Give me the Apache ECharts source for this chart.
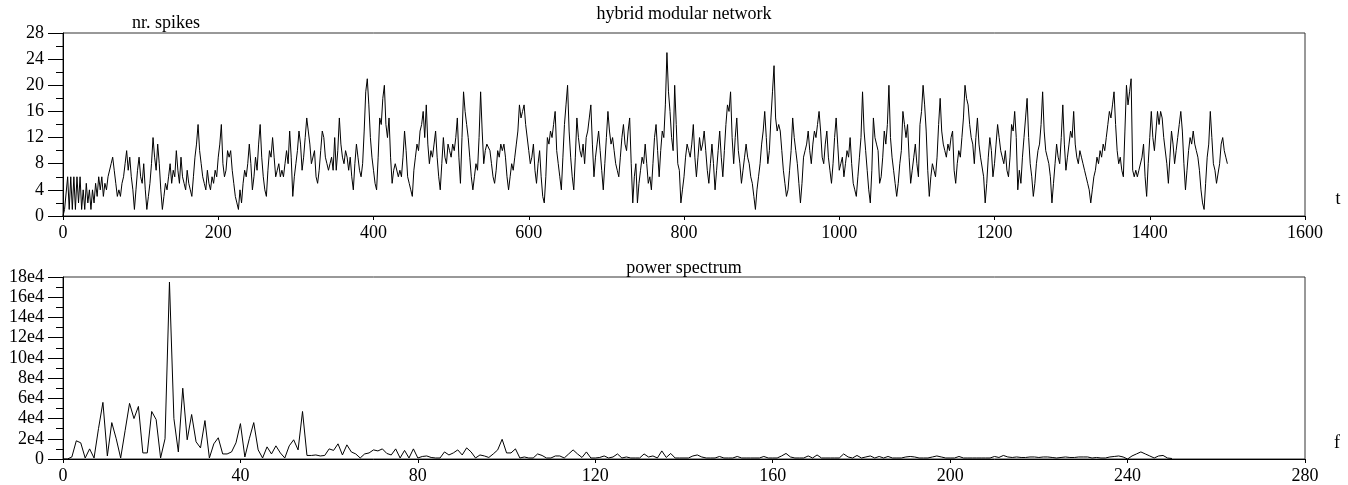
<!DOCTYPE html>
<html><head><meta charset="utf-8">
<script src="https://cdn.jsdelivr.net/npm/echarts@6/dist/echarts.min.js"></script>
<style>html,body{margin:0;padding:0;background:#fff}#c{width:1348px;height:485px}</style>
</head><body><div id="c"></div>
<script>
// ---- data ----
const spikesStep = 2; // t spacing of the values below (t = 0,2,4,...,1500)
const spikes = [
0,1,1,6,1,6,1,6,1,6,2,6,1,4,1,5,2,4,1,4,
2,5,3,6,4,6,3,5,4,6,
6,8,9,7,5,3,4,3,5,6,
8,10,7,9,6,4,1,4,7,9,
6,5,8,4,1,3,5,8,12,9,
7,11,8,4,1,3,5,4,6,8,
5,7,6,10,7,5,9,6,5,4,
7,5,4,3,6,9,11,14,10,8,
6,5,4,7,5,4,6,5,7,6,
9,11,14,8,6,7,10,9,10,7,
5,3,2,1,4,2,5,7,6,8,
11,8,4,6,9,7,11,14,9,6,
4,3,7,10,9,12,9,6,7,8,
6,7,6,8,10,8,13,9,3,6,
8,10,13,11,7,9,12,15,13,11,
8,8,10,6,5,7,10,13,12,9,
8,7,8,9,7,12,7,10,15,11,
9,8,10,9,7,9,6,4,8,11,
9,7,6,8,13,19,21,17,12,9,
7,5,4,9,15,14,18,20,14,12,
15,9,5,7,8,8,6,7,6,9,
13,10,6,5,4,3,7,9,11,10,
13,14,16,12,17,11,8,10,9,11,
13,9,6,4,8,12,9,8,11,10,
9,11,10,12,15,9,5,12,19,16,
14,12,9,6,4,6,8,7,12,19,
13,8,10,11,11,10,8,6,5,7,
10,9,11,10,11,9,6,4,6,8,
7,9,11,13,17,15,16,17,14,14,
10,8,9,11,7,5,8,10,6,3,
2,6,12,11,13,12,14,16,10,8,
6,4,9,14,17,20,13,9,6,4,
9,15,12,10,9,11,8,12,13,15,
17,11,6,9,11,13,10,7,4,8,
12,16,13,11,12,10,8,7,6,9,
12,14,11,10,13,15,8,2,6,8,
2,5,7,9,8,11,8,5,6,4,
8,12,14,10,6,10,13,12,17,25,
19,16,12,10,20,14,8,7,2,4,
6,9,11,10,9,11,14,9,6,9,
12,10,11,13,10,7,5,8,11,8,
4,7,10,13,9,6,10,14,17,16,
19,12,8,12,15,10,8,5,7,9,
11,9,8,6,5,3,1,4,6,8,
11,13,16,12,8,10,15,19,23,15,
13,14,13,10,7,5,3,4,7,10,
15,12,10,8,5,2,5,9,10,11,
13,10,8,11,13,12,14,16,13,9,
8,11,13,9,7,5,8,12,15,11,
7,8,9,6,8,10,9,12,8,5,
4,3,6,9,12,19,13,10,7,4,
2,7,15,12,11,10,5,6,9,13,
11,14,20,12,9,7,5,3,5,8,
10,16,14,12,14,9,5,7,9,11,
8,6,14,16,20,17,13,7,3,6,
8,7,6,9,14,18,13,11,10,9,
11,10,12,13,7,5,8,10,9,12,
15,20,18,17,14,12,11,8,12,15,
11,9,9,6,2,5,9,12,10,6,
8,11,14,12,10,9,8,10,7,6,
9,14,13,16,12,4,7,5,9,12,
15,18,12,8,6,3,5,8,10,11,
14,19,13,10,9,8,6,2,5,8,
11,9,8,12,17,11,7,9,11,13,
12,16,11,9,8,10,9,8,7,6,
5,4,2,4,6,7,9,8,10,9,
11,10,12,14,16,15,17,19,14,10,
8,9,7,6,13,20,17,19,21,7,
6,7,6,7,7,9,11,6,3,8,
12,16,12,10,13,16,14,16,15,12,
12,8,5,9,13,11,8,10,12,14,
16,13,8,4,7,10,12,11,13,11,
10,9,7,4,2,1,5,9,11,16,
12,8,7,5,5,8,11,12,10,9,8
];
// power spectrum, f = 0..250, values in units of 1e4
const power = [
0,0,0.2,1.8,1.6,0.1,1.0,0.1,3.0,5.6,
0.3,3.6,2.0,0.1,2.8,5.5,4.0,5.2,0.6,0.6,
4.7,3.9,0.1,2.0,17.5,4.0,0.7,7.0,1.9,4.4,
1.7,1.1,3.8,0.1,1.5,2.1,0.5,0.5,0.7,1.6,
3.5,0.2,2.0,3.6,0.9,0.1,1.2,0.5,1.3,0.6,
0.1,1.3,1.9,0.9,4.7,0.35,0.35,0.4,0.3,0.35,
1.0,0.85,1.5,0.4,1.4,0.7,0.5,0.1,0.5,0.6,
0.9,0.8,1.0,0.55,0.4,1.0,0.1,0.85,0.1,1.0,
0.1,0.25,0.3,0.15,0.1,0.1,0.7,0.4,0.6,0.9,
0.4,1.1,0.7,0.1,0.4,0.3,0.15,0.5,0.9,1.95,
0.6,0.6,1.0,0.1,0.2,0.1,0.1,0.5,0.35,0.1,
0.1,0.3,0.3,0.1,0.5,0.9,0.5,0.15,0.7,0.1,
0.1,0.15,0.3,0.1,0.2,0.5,0.1,0.2,0.1,0.1,
0.1,0.5,0.2,0.3,0.1,0.8,0.15,0.55,0.1,0.1,
0.1,0.1,0.3,0.4,0.2,0.1,0.1,0.1,0.25,0.1,
0.1,0.1,0.25,0.1,0.1,0.1,0.1,0.1,0.25,0.1,
0.1,0.1,0.3,0.55,0.2,0.1,0.1,0.1,0.3,0.1,
0.4,0.1,0.1,0.1,0.1,0.1,0.5,0.2,0.1,0.35,
0.1,0.2,0.3,0.1,0.25,0.1,0.25,0.1,0.1,0.1,
0.2,0.25,0.2,0.1,0.1,0.1,0.2,0.3,0.2,0.1,
0.1,0.1,0.25,0.1,0.1,0.1,0.1,0.1,0.1,0.1,
0.25,0.15,0.35,0.2,0.15,0.2,0.15,0.15,0.2,0.2,
0.15,0.2,0.2,0.15,0.1,0.15,0.2,0.15,0.15,0.2,
0.2,0.2,0.1,0.15,0.1,0.1,0.2,0.25,0.3,0.2,
0.0,0.3,0.5,0.7,0.5,0.3,0.1,0.3,0.35,0.1,
0.05
];
const topX = {min: 0, max: 1600, interval: 200};
const topY = {min: 0, max: 28, interval: 4};
const botX = {min: 0, max: 280, interval: 40};
const botY = {min: 0, max: 18, interval: 2};
const texts = {
  title: 'hybrid modular network',
  yName: 'nr. spikes',
  xName: 't',
  title2: 'power spectrum',
  xName2: 'f'
};

// ---- chart ----
const FONT = '"Liberation Serif", "Times New Roman", serif';
const FS = 18;
const chart = echarts.init(document.getElementById('c'), null, {renderer: 'canvas'});
const lab = {color: '#000', fontFamily: FONT, fontSize: FS};
function xAx(gi, r) {
  return {
    type: 'value', gridIndex: gi, min: r.min, max: r.max, interval: r.interval,
    axisLine: {lineStyle: {color: '#000', width: 1}},
    axisTick: {show: true, length: 4, lineStyle: {color: '#000'}},
    axisLabel: Object.assign({margin: 8, formatter: v => String(v)}, lab),
    splitLine: {show: false}
  };
}
function yAx(gi, r, fmt) {
  return {
    type: 'value', gridIndex: gi, min: r.min, max: r.max, interval: r.interval,
    axisLine: {show: true, lineStyle: {color: '#000', width: 1}},
    axisTick: {show: true, length: 15, lineStyle: {color: '#000'}},
    minorTick: {show: true, splitNumber: 2, length: 7, lineStyle: {color: '#000'}},
    axisLabel: Object.assign({margin: 19, formatter: fmt}, lab),
    splitLine: {show: false}
  };
}
function txt(s, x, y) {
  return {type: 'text', x: x, y: y, style: {text: s, font: FS + 'px ' + FONT, fill: '#000', align: 'center', verticalAlign: 'middle'}};
}
chart.setOption({
  animation: false,
  backgroundColor: '#fff',
  grid: [
    {left: 63, right: 43, top: 33, bottom: 269, show: true, borderColor: '#333', borderWidth: 1},
    {left: 63, right: 43, top: 277, bottom: 24, show: true, borderColor: '#333', borderWidth: 1}
  ],
  xAxis: [xAx(0, topX), xAx(1, botX)],
  yAxis: [
    yAx(0, topY, v => String(v)),
    yAx(1, botY, v => v === 0 ? '0' : v + 'e4')
  ],
  series: [
    {type: 'line', xAxisIndex: 0, yAxisIndex: 0, showSymbol: false, symbol: 'none',
     lineStyle: {color: '#000', width: 1}, data: spikes.map((v, i) => [i * spikesStep, v])},
    {type: 'line', xAxisIndex: 1, yAxisIndex: 1, showSymbol: false, symbol: 'none',
     lineStyle: {color: '#000', width: 1}, data: power.map((v, i) => [i, v])}
  ],
  graphic: [
    txt(texts.title, 684, 14),
    txt(texts.yName, 166, 23),
    txt(texts.xName, 1338, 199),
    txt(texts.title2, 684, 268),
    txt(texts.xName2, 1337, 443)
  ]
});
</script></body></html>
